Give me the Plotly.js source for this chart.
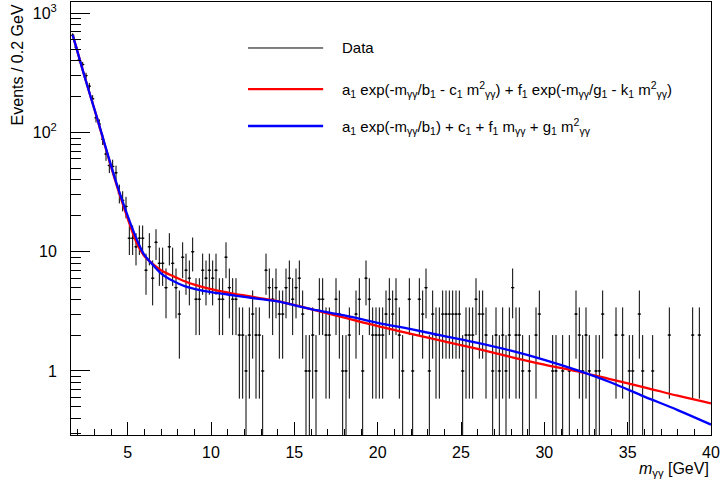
<!DOCTYPE html>
<html>
<head>
<meta charset="utf-8">
<script src="https://cdn.plot.ly/plotly-3.0.1.min.js"></script>
<style>
  html, body { margin: 0; padding: 0; background: #fff; }
  #chart { width: 720px; height: 483px; }
</style>
</head>
<body>
<div id="chart"></div>
<script>
// Histogram binning (GeV)
const binLow = 1.6;
const binWidth = 0.2;

// Events per 0.2 GeV bin (192 bins, 1.6 - 40 GeV)
const counts = [
  655,520,410,372,300,245,192,133,118,88,
  66,53,52,46,31,27,24,13,13,11,
  13,13,7,11,6,12,8,8,5,11,
  8,5,3,9,7,6,10,4,4,7,
  6,7,6,7,4,4,9,5,4,4,
  2,2,1,2,3,2,2,1,7,5,
  4,5,3,3,5,6,4,5,6,3,
  1,1,2,1,4,4,2,2,0,4,
  3,1,1,2,0,3,4,1,6,4,
  2,2,2,2,3,4,3,4,2,1,
  0,4,1,0,4,3,5,1,3,2,
  2,3,3,3,3,3,3,1,2,2,
  2,4,3,3,2,0,1,2,1,2,
  1,2,5,2,2,1,0,1,0,2,
  3,0,0,0,1,1,0,1,0,1,
  0,3,2,1,2,1,0,1,1,3,
  0,0,0,2,0,2,0,1,1,0,
  3,1,0,0,1,0,0,0,0,2,
  0,0,0,0,0,0,2,0,2,0,
  0,0
];

// Fit curves
const fitMass = [1.7,2.0,2.4,2.8,3.2,3.6,4.0,4.4,4.8,5.2,5.6,6.0,6.5,7.0,7.5,8.0,8.5,9.0,10,11,12,13,14,16,18,20,22,24,26,28,30,32,34,36,38,40];
const fitRed  = [659,470,300,195,127,81,52,34,23,15.8,11.4,9.2,7.9,7.0,6.45,6.0,5.6,5.3,4.85,4.55,4.3,4.07,3.85,3.30,2.80,2.38,2.05,1.77,1.53,1.31,1.13,0.99,0.85,0.73,0.62,0.535];
const fitBlue = [659,470,300,195,128,82,53,35,24,16.8,12.2,9.4,7.8,6.6,5.9,5.45,5.1,4.88,4.58,4.38,4.18,4.0,3.83,3.30,2.93,2.53,2.24,1.96,1.72,1.48,1.24,1.01,0.80,0.61,0.47,0.355];

// Axis ticks
const xTickVals = [5,10,15,20,25,30,35,40];
const xTickText = ['5','10','15','20','25','30','35','40'];
const yTickVals = [1,10,100,1000];
const yTickText = ['1','10','10<sup>2</sup>','10<sup>3</sup>'];

const legendLabels = [
  'Data',
  'a<sub>1</sub> exp(-m<sub>γγ</sub>/b<sub>1</sub> - c<sub>1</sub> m<sup>2</sup><sub>γγ</sub>) + f<sub>1</sub> exp(-m<sub>γγ</sub>/g<sub>1</sub> - k<sub>1</sub> m<sup>2</sup><sub>γγ</sub>)',
  'a<sub>1</sub> exp(-m<sub>γγ</sub>/b<sub>1</sub>) + c<sub>1</sub> + f<sub>1</sub> m<sub>γγ</sub> + g<sub>1</sub> m<sup>2</sup><sub>γγ</sub>'
];

// ---- build data trace ----
const xs = [], ys = [], eUp = [], eDn = [];
counts.forEach((n, i) => {
  if (n > 0) {
    xs.push(binLow + binWidth * (i + 0.5));
    ys.push(n);
    eUp.push(Math.sqrt(n));
    eDn.push(Math.sqrt(n));
  }
});

// minor ticks
const xMinor = [];
for (let v = 2; v <= 39; v++) if (v % 5 !== 0) xMinor.push(v);
const yMinor = [];
[0.1, 1, 10, 100].forEach(d => { for (let k = 2; k <= 9; k++) yMinor.push(k * d); });

const FONT = '"Liberation Sans", Arial, Helvetica, sans-serif';

const traces = [
  {
    x: xs, y: ys, type: 'scatter', mode: 'markers',
    marker: { size: 2, color: '#000' },
    error_y: { type: 'data', array: eUp, arrayminus: eDn, symmetric: false, color: '#000', thickness: 1, width: 0 },
    error_x: { type: 'constant', value: binWidth / 2, color: '#000', thickness: 1, width: 0 },
    hoverinfo: 'x+y', showlegend: false
  },
  {
    x: fitMass, y: fitRed, type: 'scatter', mode: 'lines',
    line: { color: '#ff0000', width: 2.3, shape: 'spline', smoothing: 1 },
    showlegend: false
  },
  {
    x: fitMass, y: fitBlue, type: 'scatter', mode: 'lines',
    line: { color: '#0000ff', width: 2.3, shape: 'spline', smoothing: 1 },
    showlegend: false
  }
];

// legend drawn ROOT-style
const legY = [0.8938, 0.799, 0.7136];
const legColor = ['#000', '#ff0000', '#0000ff'];
const legWidth = [1, 2.3, 2.3];
const shapes = legY.map((y, i) => ({
  type: 'line', xref: 'paper', yref: 'paper',
  x0: 0.2766, x1: 0.394, y0: y, y1: y,
  line: { color: legColor[i], width: legWidth[i] }
}));
const annotations = legY.map((y, i) => ({
  xref: 'paper', yref: 'paper', x: 0.4203, y: y,
  xanchor: 'left', yanchor: 'middle', showarrow: false,
  text: legendLabels[i], font: { family: FONT, size: 15, color: '#000' }
}));
annotations.push({
  xref: 'paper', yref: 'paper', x: 1.0, y: -0.08,
  xanchor: 'right', yanchor: 'middle', showarrow: false,
  text: '<i>m</i><sub>γγ</sub> [GeV]', font: { family: FONT, size: 16, color: '#000' }
});
annotations.push({
  xref: 'paper', yref: 'paper', x: -0.083, y: 1.0,
  xanchor: 'center', yanchor: 'top', showarrow: false, textangle: -90,
  text: 'Events / 0.2 GeV', font: { family: FONT, size: 16, color: '#000' }
});

const layout = {
  width: 720, height: 483,
  margin: { l: 71, r: 9, t: 2, b: 48, pad: 0 },
  paper_bgcolor: '#fff', plot_bgcolor: '#fff',
  font: { family: FONT, size: 16, color: '#000' },
  showlegend: false,
  xaxis: {
    range: [binLow, 40], showgrid: false, zeroline: false,
    showline: true, linecolor: '#000', linewidth: 1, mirror: true,
    tickmode: 'array', tickvals: xTickVals, ticktext: xTickText,
    ticks: 'inside', ticklen: 13, tickwidth: 1, tickcolor: '#000',
    ticklabelstandoff: 3,
    minor: { tickmode: 'array', tickvals: xMinor, ticks: 'inside', ticklen: 6, tickwidth: 1, tickcolor: '#000', showgrid: false },
    tickfont: { family: FONT, size: 16, color: '#000' }
  },
  yaxis: {
    type: 'log', range: [-0.537, 3.095], showgrid: false, zeroline: false,
    showline: true, linecolor: '#000', linewidth: 1, mirror: true,
    tickmode: 'array', tickvals: yTickVals, ticktext: yTickText,
    ticks: 'inside', ticklen: 19, tickwidth: 1, tickcolor: '#000',
    ticklabelstandoff: 10,
    minor: { tickmode: 'array', tickvals: yMinor, ticks: 'inside', ticklen: 10, tickwidth: 1, tickcolor: '#000', showgrid: false },
    tickfont: { family: FONT, size: 16, color: '#000' }
  },
  shapes: shapes,
  annotations: annotations
};

Plotly.newPlot('chart', traces, layout, { staticPlot: true, displayModeBar: false });
</script>
</body>
</html>
